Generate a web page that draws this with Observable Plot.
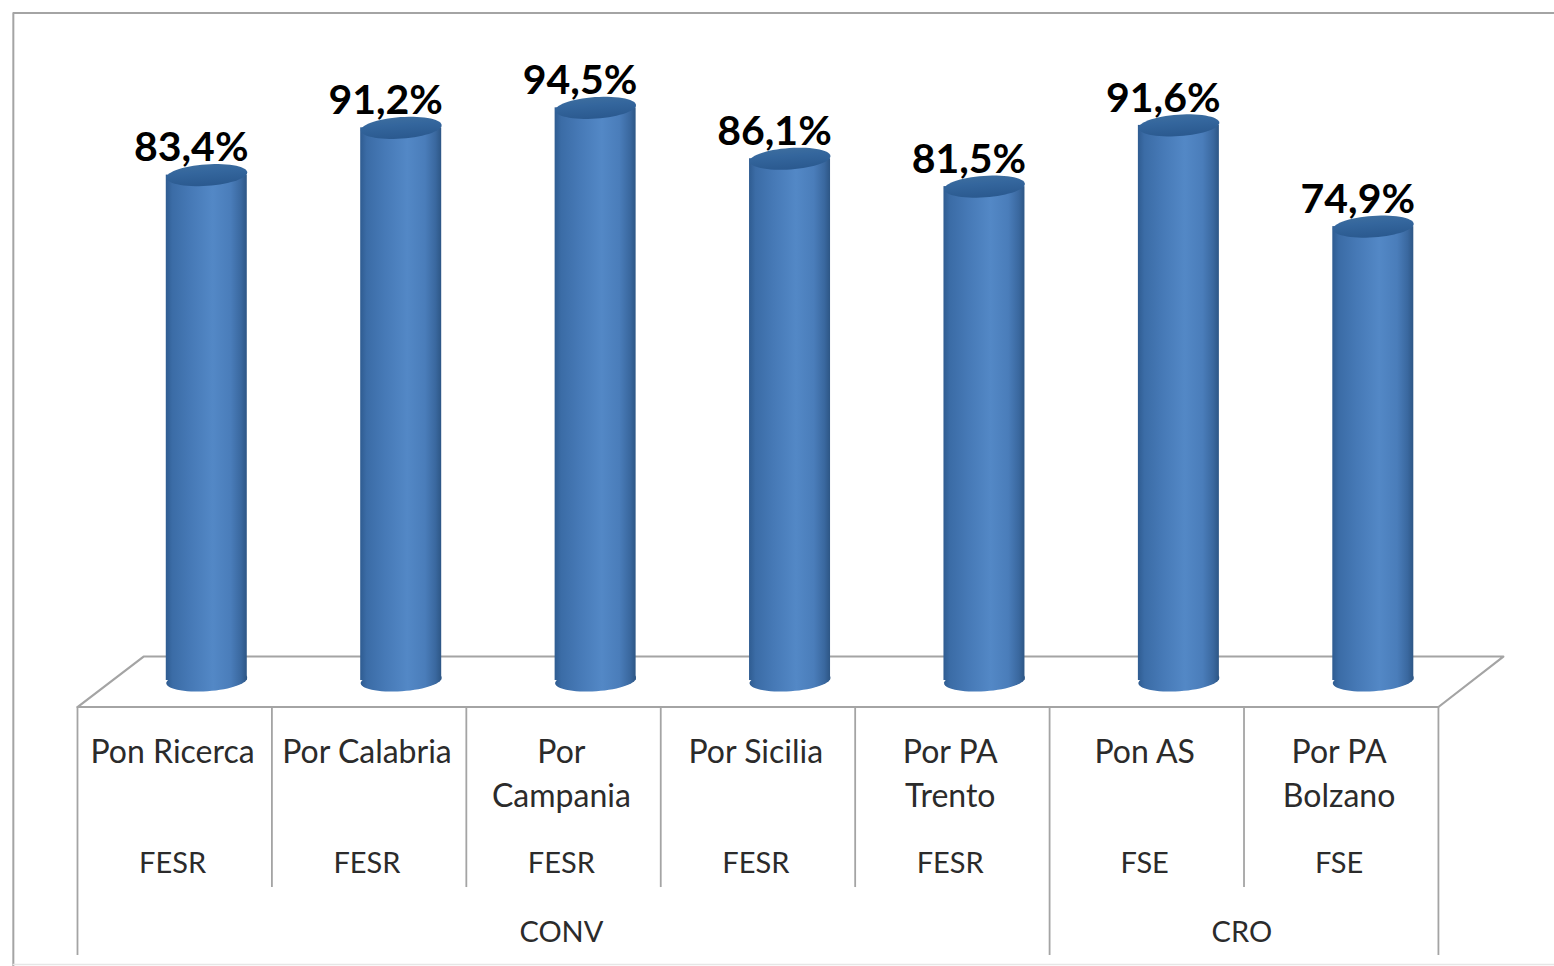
<!DOCTYPE html>
<html>
<head>
<meta charset="utf-8">
<style>html,body{margin:0;padding:0;background:#fff;overflow:hidden}svg{display:block}</style>
<script src="https://cdn.jsdelivr.net/npm/d3@7"></script>
<script src="https://cdn.jsdelivr.net/npm/@observablehq/plot@0.6"></script>
</head>
<body>
<div id="chart"></div>
<script>
const categories = ["Pon Ricerca","Por Calabria","Por\nCampania","Por Sicilia","Por PA\nTrento","Pon AS","Por PA\nBolzano"];
const values = [83.4,91.2,94.5,86.1,81.5,91.6,74.9];
const valueLabels = ["83,4%","91,2%","94,5%","86,1%","81,5%","91,6%","74,9%"];
const funds = ["FESR","FESR","FESR","FESR","FESR","FSE","FSE"];
const groups = [{name:"CONV",start:0,end:5},{name:"CRO",start:5,end:7}];
const cellEdges = [0,1,2,3,4,5,6,7];
const groupEdges = [0,5,7];

const rows = categories.map((c,i)=>({c,i,v:values[i],l:valueLabels[i],f:funds[i]}));
const GREY = "#a4a4a4", INK = "#2b2b2b", FONT = "Lato";
const floorFront = -4.37, floorBack = 3.96, rowEnd = -34.16, tableEnd = -45.38;
const depth = 0.34, barShift = 0.165, barHalf = 0.2083, labelShift = 0.085, textShift = -0.011;

const ellipse = {draw(ctx,size){
  const rx = Math.sqrt(size/Math.PI), ry = rx*0.265, t = -4*Math.PI/180;
  for(let k=0;k<=60;k++){
    const a = k/60*2*Math.PI, ex = rx*Math.cos(a), ey = ry*Math.sin(a);
    const px = ex*Math.cos(t)-ey*Math.sin(t), py = ex*Math.sin(t)+ey*Math.cos(t);
    k ? ctx.lineTo(px,py) : ctx.moveTo(px,py);
  }
  ctx.closePath();
}};

const defs = () => {
  const ns = "http://www.w3.org/2000/svg";
  const d = document.createElementNS(ns,"defs");
  d.innerHTML = `
  <linearGradient id="cyl" x1="0" x2="1" y1="0" y2="0">
    <stop offset="0" stop-color="#2f5c91"/><stop offset="0.08" stop-color="#3b6ca6"/>
    <stop offset="0.3" stop-color="#4679b6"/><stop offset="0.58" stop-color="#5388c6"/>
    <stop offset="0.8" stop-color="#4a7dba"/><stop offset="0.93" stop-color="#3a689f"/>
    <stop offset="1" stop-color="#2d5685"/>
  </linearGradient>
  <linearGradient id="cap" x1="0" x2="0.25" y1="0" y2="1">
    <stop offset="0" stop-color="#40709f"/><stop offset="0.45" stop-color="#34669d"/><stop offset="1" stop-color="#2b5a90"/>
  </linearGradient>`;
  return d;
};

const plot = Plot.plot({
  width:1554, height:966, margin:0,
  style:{background:"#fff",fontFamily:FONT},
  x:{domain:[-0.396,7.597],range:[0,1554],axis:null},
  y:{domain:[-47.19,112.21],range:[966,0],axis:null},
  marks:[
    defs,
    // chart frame
    Plot.line([[7.597,110.15],[-0.33,110.15],[-0.33,-47.19]],{x:"0",y:"1",stroke:GREY,strokeWidth:2}),
    Plot.line([[-0.33,-46.85],[7.597,-46.85]],{x:"0",y:"1",stroke:"#e6e6e6",strokeWidth:1.5}),
    // floor
    Plot.line([[0,floorFront],[depth,floorBack],[7.334,floorBack],[7,floorFront],[0,floorFront]],{x:"0",y:"1",stroke:GREY,strokeWidth:2.2}),
    // table separators
    Plot.ruleX(cellEdges.filter(e=>!groupEdges.includes(e)),{x:d=>d,y1:floorFront,y2:rowEnd,stroke:GREY,strokeWidth:1.8}),
    Plot.ruleX(groupEdges,{x:d=>d,y1:floorFront,y2:tableEnd,stroke:GREY,strokeWidth:1.8}),
    // value labels
    Plot.text(rows,{x:d=>d.i+0.5+labelShift,y:"v",dy:-27,text:"l",fontSize:41,fontWeight:700,fill:"#000",fontFamily:FONT}),
    // cylinders
    Plot.dot(rows,{x:d=>d.i+0.5+barShift,y:()=>0,r:40.5,symbol:ellipse,fill:"url(#cyl)",stroke:"none"}),
    Plot.rect(rows,{x1:d=>d.i+0.5+barShift-barHalf,x2:d=>d.i+0.5+barShift+barHalf,y1:()=>0,y2:"v",fill:"url(#cyl)"}),
    Plot.dot(rows,{x:d=>d.i+0.5+barShift,y:"v",r:40.5,symbol:ellipse,fill:"url(#cap)",stroke:"none"}),
    // table texts
    Plot.text(rows,{x:d=>d.i+0.5+textShift,y:()=>-8.51,text:"c",lineAnchor:"top",lineHeight:1.375,fontSize:32,fill:INK,fontFamily:FONT}),
    Plot.text(rows,{x:d=>d.i+0.5+textShift,y:()=>-30.25,text:"f",fontSize:29,fill:INK,fontFamily:FONT}),
    Plot.text(groups,{x:d=>(d.start+d.end)/2+textShift,y:()=>-41.55,text:"name",fontSize:29,fill:INK,fontFamily:FONT})
  ]
});
document.getElementById("chart").append(plot);
</script>
</body>
</html>
